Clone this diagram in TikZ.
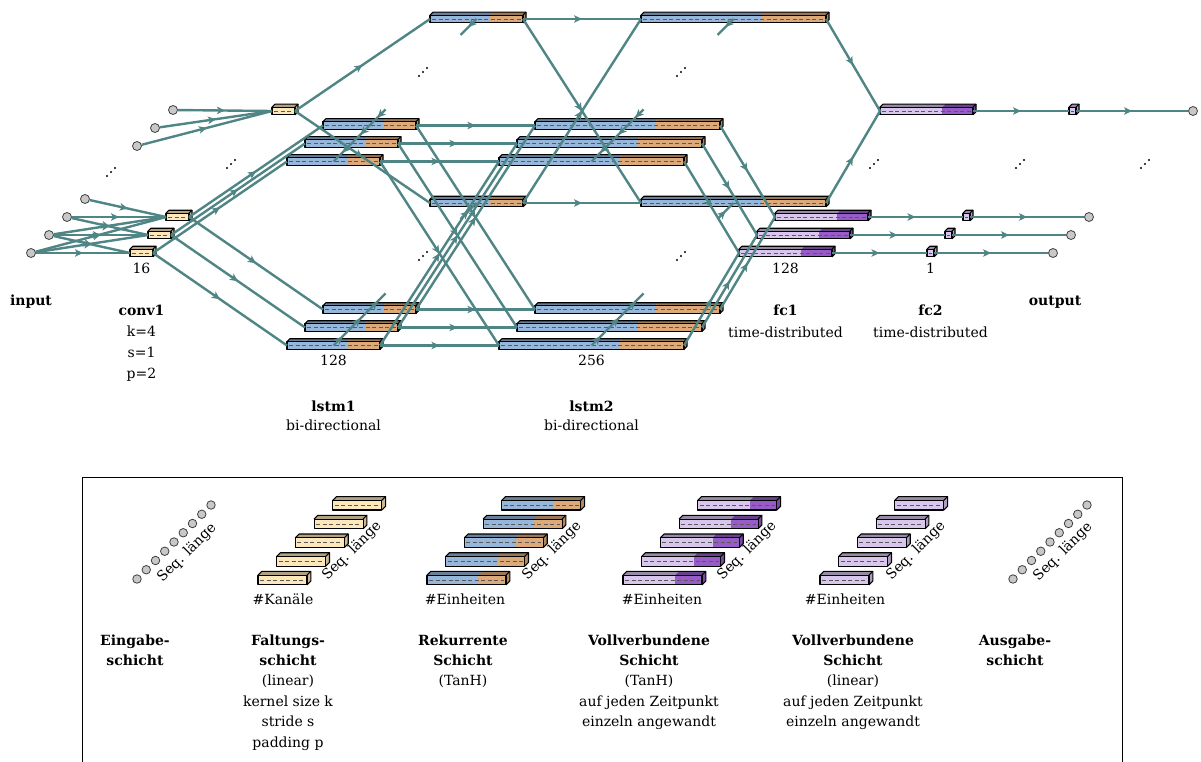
\documentclass[tikz,border=0pt]{standalone}
\usepackage{fontspec}
\setmainfont{DejaVu Serif}
\usetikzlibrary{arrows.meta,decorations.markings}

\definecolor{wire}{RGB}{80,133,133}
\definecolor{convcol}{RGB}{252,232,186}
\definecolor{fwdcol}{RGB}{150,182,218}
\definecolor{bwdcol}{RGB}{220,170,122}
\definecolor{fclight}{RGB}{216,198,236}
\definecolor{fcdark}{RGB}{152,92,200}
\definecolor{seqfill}{RGB}{200,200,200}

\tikzset{
  link/.style={draw=wire, line width=2.4pt, postaction={decorate},
    decoration={markings, mark=at position 0.5 with {\arrow{Stealth[length=8pt,width=7.5pt,inset=2pt]}}}},
  seqpt/.style={circle, draw=black!75, fill=seqfill, line width=0.8pt, minimum size=9pt, inner sep=0pt},
  boxedge/.style={draw=black, line width=1.1pt, line join=round},
  boxdash/.style={draw=black!65, line width=0.6pt, dash pattern=on 4pt off 2.5pt},
  lbl/.style={anchor=base, inner sep=0pt},
  lblb/.style={anchor=base, inner sep=0pt, font=\fontsize{14}{17}\selectfont\bfseries},
  seqlbl/.style={rotate=45, inner sep=0pt},
}

% 3-D layer cell: name, left x, centre y, front width, split fraction, left colour, right colour
\newcommand\layerbox[7]{%
  \pgfmathsetmacro\bxl{#2}%
  \pgfmathsetmacro\bxs{#2+#5*#4}%
  \pgfmathsetmacro\bxe{#2+#4}%
  \pgfmathsetmacro\byc{#3}%
  \pgfmathsetmacro\byt{#3-\bh}%
  \pgfmathsetmacro\byb{#3+\bh}%
  \pgfmathsetmacro\bxm{#2+0.5*#4}%
  \coordinate (#1-l) at (\bxl,\byc);
  \coordinate (#1-r) at (\bxe,\byc);
  \coordinate (#1-m) at (\bxm,\byc);
  \fill[#6] (\bxl,\byt) rectangle (\bxs,\byb);
  \fill[#7] (\bxs,\byt) rectangle (\bxe,\byb);
  \fill[#6!70!black] (\bxl,\byt) -- ++(\bd,-\bd) -- ++({\bxs-\bxl},0) -- (\bxs,\byt) -- cycle;
  \fill[#7!70!black] (\bxs,\byt) -- ++(\bd,-\bd) -- ++({\bxe-\bxs},0) -- (\bxe,\byt) -- cycle;
  \fill[#7!80!black] (\bxe,\byt) -- ++(\bd,-\bd) -- ++(0,{2*\bh}) -- (\bxe,\byb) -- cycle;
  \draw[boxdash] ({\bxl+2},\byc) -- ({\bxe-2},\byc);
  \draw[boxedge] (\bxl,\byt) rectangle (\bxe,\byb);
  \draw[boxedge] (\bxl,\byt) -- ++(\bd,-\bd) -- ++({\bxe-\bxl},0) -- ++(0,{2*\bh}) -- (\bxe,\byb);
  \draw[boxedge] (\bxe,\byt) -- ++(\bd,-\bd);
}

% three dots along the sequence diagonal
\newcommand\seqdots[2]{%
  \fill[black] (#1-4,#2+4) circle (1.1) (#1,#2) circle (1.1) (#1+4,#2-4) circle (1.1);
}

\begin{document}
\begin{tikzpicture}[x=1pt,y=-1pt,font=\fontsize{14}{17}\selectfont]
\useasboundingbox (0,0) rectangle (1201,762);
\clip (0,0) rectangle (1201,762);

% ---------------- network cells ----------------
\def\bh{3.8}\def\bd{3}
% conv1
\layerbox{c1}{130}{253}{23}{1}{convcol}{convcol}
\layerbox{c2}{148}{235}{23}{1}{convcol}{convcol}
\layerbox{c3}{166}{217}{23}{1}{convcol}{convcol}
\layerbox{cN}{272}{111}{23}{1}{convcol}{convcol}
% lstm1, upper copy
\layerbox{L1uN}{430}{19}{93}{0.65}{fwdcol}{bwdcol}
\layerbox{L1u3}{323}{125.5}{93}{0.65}{fwdcol}{bwdcol}
\layerbox{L1u2}{305}{143.5}{93}{0.65}{fwdcol}{bwdcol}
\layerbox{L1u1}{287}{161.5}{93}{0.65}{fwdcol}{bwdcol}
% lstm1, lower copy
\layerbox{L1dN}{430}{203}{93}{0.65}{fwdcol}{bwdcol}
\layerbox{L1d3}{323}{309.5}{93}{0.65}{fwdcol}{bwdcol}
\layerbox{L1d2}{305}{327.5}{93}{0.65}{fwdcol}{bwdcol}
\layerbox{L1d1}{287}{345.5}{93}{0.65}{fwdcol}{bwdcol}
% lstm2, upper copy
\layerbox{L2uN}{641}{19}{185}{0.65}{fwdcol}{bwdcol}
\layerbox{L2u3}{535}{125.5}{185}{0.65}{fwdcol}{bwdcol}
\layerbox{L2u2}{517}{143.5}{185}{0.65}{fwdcol}{bwdcol}
\layerbox{L2u1}{499}{161.5}{185}{0.65}{fwdcol}{bwdcol}
% lstm2, lower copy
\layerbox{L2dN}{641}{203}{185}{0.65}{fwdcol}{bwdcol}
\layerbox{L2d3}{535}{309.5}{185}{0.65}{fwdcol}{bwdcol}
\layerbox{L2d2}{517}{327.5}{185}{0.65}{fwdcol}{bwdcol}
\layerbox{L2d1}{499}{345.5}{185}{0.65}{fwdcol}{bwdcol}
% fc1
\layerbox{F1N}{880}{111}{93}{0.67}{fclight}{fcdark}
\layerbox{F1c}{775}{217}{93}{0.67}{fclight}{fcdark}
\layerbox{F1b}{757}{235}{93}{0.67}{fclight}{fcdark}
\layerbox{F1a}{739}{253}{93}{0.67}{fclight}{fcdark}
% fc2
\layerbox{F2N}{1069}{111}{7}{1}{fclight}{fclight}
\layerbox{F2c}{963}{217}{7}{1}{fclight}{fclight}
\layerbox{F2b}{945}{235}{7}{1}{fclight}{fclight}
\layerbox{F2a}{927}{253}{7}{1}{fclight}{fclight}

% input and output sequence points
\node[seqpt] (I1) at (31,253) {};
\node[seqpt] (I2) at (49,235) {};
\node[seqpt] (I3) at (67,217) {};
\node[seqpt] (I4) at (85,199) {};
\node[seqpt] (IA) at (137,146) {};
\node[seqpt] (IB) at (155,128) {};
\node[seqpt] (IC) at (173,110) {};
\node[seqpt] (Oa) at (1053,253) {};
\node[seqpt] (Ob) at (1071,235) {};
\node[seqpt] (Oc) at (1089,217) {};
\node[seqpt] (ON) at (1193,111) {};

% ---------------- connections ----------------
% input -> conv1 (k=4, p=2)
\draw[link] (I1) -- (c1-l);
\draw[link] (I2) -- (c1-l);
\draw[link] (I1) -- (c2-l);
\draw[link] (I2) -- (c2-l);
\draw[link] (I3) -- (c2-l);
\draw[link] (I1) -- (c3-l);
\draw[link] (I2) -- (c3-l);
\draw[link] (I3) -- (c3-l);
\draw[link] (I4) -- (c3-l);
\draw[link] (IA) -- (cN-l);
\draw[link] (IB) -- (cN-l);
\draw[link] (IC) -- (cN-l);
% conv1 -> lstm1 (both copies)
\foreach \t in {1,2,3,N} {
  \draw[link] (c\t-r) -- (L1u\t-l);
  \draw[link] (c\t-r) -- (L1d\t-l);
}
% lstm1 -> lstm2
\foreach \t in {1,2,3,N} {
  \draw[link] (L1u\t-r) -- (L2u\t-l);
  \draw[link] (L1u\t-r) -- (L2d\t-l);
  \draw[link] (L1d\t-r) -- (L2d\t-l);
  \draw[link] (L1d\t-r) -- (L2u\t-l);
}
% lstm2 -> fc1
\draw[link] (L2u1-r) -- (F1a-l);
\draw[link] (L2d1-r) -- (F1a-l);
\draw[link] (L2u2-r) -- (F1b-l);
\draw[link] (L2d2-r) -- (F1b-l);
\draw[link] (L2u3-r) -- (F1c-l);
\draw[link] (L2d3-r) -- (F1c-l);
\draw[link] (L2uN-r) -- (F1N-l);
\draw[link] (L2dN-r) -- (F1N-l);
% fc1 -> fc2 -> output
\foreach \t in {a,b,c,N} {
  \draw[link] (F1\t-r) -- (F2\t-l);
  \draw[link] (F2\t-r) -- (O\t);
}
% recurrent links
\foreach \L in {L1,L2} {
  \path (\L d3-m) ++(16,-16) coordinate (\L d3-s);
  \path (\L dN-m) ++(-16,16) coordinate (\L dN-s);
  \path (\L u3-m) ++(16,-16) coordinate (\L u3-s);
  \path (\L uN-m) ++(-16,16) coordinate (\L uN-s);
  \draw[link] (\L d1-m) -- (\L d2-m);
  \draw[link] (\L d2-m) -- (\L d3-m);
  \draw[link] (\L d3-m) -- (\L d3-s);
  \draw[link] (\L dN-s) -- (\L dN-m);
  \draw[link] (\L u3-s) -- (\L u3-m);
  \draw[link] (\L u3-m) -- (\L u2-m);
  \draw[link] (\L u2-m) -- (\L u1-m);
  \draw[link] (\L uN-m) -- (\L uN-s);
}

% elided time steps
\seqdots{111}{172}
\seqdots{231}{164}
\seqdots{423}{72}
\seqdots{423}{256}
\seqdots{681}{72}
\seqdots{681}{256}
\seqdots{874}{164}
\seqdots{1020}{164}
\seqdots{1145}{164}

% sizes
\node[lbl] (n16) at (141.5,273) {16};
\node[lbl] (n128a) at (333.5,365) {128};
\node[lbl] (n256) at (591.5,365) {256};
\node[lbl] (n128b) at (785.5,273) {128};
\node[lbl] (n1) at (930.5,273) {1};

% layer captions
\node[lblb] (tin) at (31,305) {input};
\node[lblb] (tc1) at (141.5,315) {conv1};
\node[lbl] (tc1k) at (141.5,336) {k=4};
\node[lbl] (tc1s) at (141.5,357) {s=1};
\node[lbl] (tc1p) at (141.5,378) {p=2};
\node[lblb] (tl1) at (333.5,411) {lstm1};
\node[lbl] (tl1b) at (333.5,430) {bi-directional};
\node[lblb] (tl2) at (591.5,411) {lstm2};
\node[lbl] (tl2b) at (591.5,430) {bi-directional};
\node[lblb] (tf1) at (785.5,315) {fc1};
\node[lbl] (tf1b) at (785.5,337) {time-distributed};
\node[lblb] (tf2) at (930.5,315) {fc2};
\node[lbl] (tf2b) at (930.5,337) {time-distributed};
\node[lblb] (tout) at (1055,305) {output};

% ---------------- legend ----------------
\draw[line width=0.8pt] (82,477) rectangle (1122,800);
\def\bh{4.8}\def\bd{3.8}
\foreach \k in {0,...,8} {
  \node[seqpt, minimum size=8.5pt] (lgI\k) at ({137+9.25*\k},{579-9.25*\k}) {};
  \node[seqpt, minimum size=8.5pt] (lgO\k) at ({1013+9.25*\k},{579-9.25*\k}) {};
}
\foreach \k in {0,...,4} {
  \pgfmathsetmacro\ly{580-18.7*\k}
  \pgfmathsetmacro\lxa{258+18.7*\k}
  \pgfmathsetmacro\lxb{427+18.7*\k}
  \pgfmathsetmacro\lxc{623+18.7*\k}
  \pgfmathsetmacro\lxd{820+18.7*\k}
  \layerbox{lgC\k}{\lxa}{\ly}{49}{1}{convcol}{convcol}
  \layerbox{lgR\k}{\lxb}{\ly}{79}{0.65}{fwdcol}{bwdcol}
  \layerbox{lgT\k}{\lxc}{\ly}{79}{0.66}{fclight}{fcdark}
  \layerbox{lgL\k}{\lxd}{\ly}{49}{1}{fclight}{fclight}
}
\node[seqlbl] (sqI) at (187,553) {Seq. länge};
\node[seqlbl] (sqC) at (352,551) {Seq. länge};
\node[seqlbl] (sqR) at (552,551) {Seq. länge};
\node[seqlbl] (sqT) at (747,551) {Seq. länge};
\node[seqlbl] (sqL) at (916,551) {Seq. länge};
\node[seqlbl] (sqO) at (1063,552) {Seq. länge};
\node[lbl] (dC) at (283,604) {\#Kanäle};
\node[lbl] (dR) at (465,604) {\#Einheiten};
\node[lbl] (dT) at (662,604) {\#Einheiten};
\node[lbl] (dL) at (845,604) {\#Einheiten};

\foreach \t [count=\k] in {\textbf{Eingabe-},\textbf{schicht}}
  \node[lbl] (eI\k) at (135,{645+20.4*(\k-1)}) {\t};
\foreach \t [count=\k] in {\textbf{Faltungs-},\textbf{schicht},(linear),kernel size k,stride s,padding p}
  \node[lbl] (eC\k) at (288,{645+20.4*(\k-1)}) {\t};
\foreach \t [count=\k] in {\textbf{Rekurrente},\textbf{Schicht},(TanH)}
  \node[lbl] (eR\k) at (463,{645+20.4*(\k-1)}) {\t};
\foreach \t [count=\k] in {\textbf{Vollverbundene},\textbf{Schicht},(TanH),auf jeden Zeitpunkt,einzeln angewandt}
  \node[lbl] (eT\k) at (649,{645+20.4*(\k-1)}) {\t};
\foreach \t [count=\k] in {\textbf{Vollverbundene},\textbf{Schicht},(linear),auf jeden Zeitpunkt,einzeln angewandt}
  \node[lbl] (eL\k) at (853,{645+20.4*(\k-1)}) {\t};
\foreach \t [count=\k] in {\textbf{Ausgabe-},\textbf{schicht}}
  \node[lbl] (eO\k) at (1015,{645+20.4*(\k-1)}) {\t};
\end{tikzpicture}
\end{document}
